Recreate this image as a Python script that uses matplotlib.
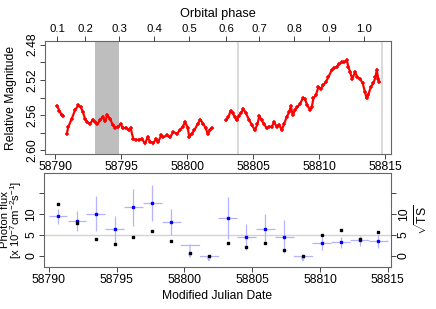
import numpy as np
import matplotlib
matplotlib.use("Agg")
import matplotlib.pyplot as plt

plt.rcParams['font.family'] = ['Liberation Sans', 'DejaVu Sans']
plt.rcParams['mathtext.fontset'] = 'custom'
plt.rcParams['mathtext.rm'] = 'Liberation Sans'
plt.rcParams['mathtext.it'] = 'Liberation Sans:italic'
plt.rcParams['font.size'] = 8.7

# optical light curve (MJD, relative magnitude), three continuous pieces
mjd_a = [58790.17, 58790.33, 58790.51, 58790.61]
mag_a = [2.550, 2.555, 2.560, 2.561]
mjd_b = [58790.89, 58791.01, 58791.27, 58791.52, 58791.77, 58791.95, 58792.10, 58792.27,
         58792.45, 58792.65, 58792.86, 58793.03, 58793.20, 58793.41, 58793.61, 58793.79,
         58793.96, 58794.17, 58794.37, 58794.57, 58794.80, 58794.98, 58795.13, 58795.38,
         58795.58, 58795.73, 58795.93, 58796.14, 58796.39, 58796.57, 58796.82, 58797.02,
         58797.20, 58797.45, 58797.63, 58797.83, 58798.03, 58798.20, 58798.46, 58798.71,
         58798.96, 58799.22, 58799.47, 58799.67, 58799.85, 58800.05, 58800.17, 58800.36,
         58800.55, 58800.81, 58801.01, 58801.23, 58801.42, 58801.57, 58801.74, 58801.92]
mag_b = [2.581, 2.573, 2.564, 2.554, 2.549, 2.551, 2.556, 2.564,
         2.568, 2.570, 2.565, 2.568, 2.570, 2.566, 2.562, 2.567,
         2.560, 2.564, 2.571, 2.574, 2.573, 2.570, 2.575, 2.574,
         2.577, 2.575, 2.587, 2.588, 2.588, 2.587, 2.592, 2.585,
         2.590, 2.592, 2.587, 2.590, 2.583, 2.585, 2.583, 2.585,
         2.579, 2.581, 2.577, 2.573, 2.568, 2.574, 2.585, 2.581,
         2.577, 2.570, 2.565, 2.570, 2.575, 2.581, 2.577, 2.575]
mjd_c = [58802.95, 58803.13, 58803.31, 58803.46, 58803.64, 58803.77, 58803.92, 58804.07,
         58804.27, 58804.47, 58804.72, 58804.90, 58805.15, 58805.33, 58805.48, 58805.66,
         58805.83, 58806.04, 58806.23, 58806.42, 58806.59, 58806.80, 58806.99, 58807.17,
         58807.35, 58807.55, 58807.75, 58807.86, 58808.01, 58808.18, 58808.36, 58808.56,
         58808.77, 58808.94, 58809.11, 58809.32, 58809.45, 58809.57, 58809.77, 58809.95,
         58810.13, 58810.33, 58810.53, 58810.70, 58810.96, 58811.16, 58811.34, 58811.54,
         58811.72, 58811.92, 58812.10, 58812.22, 58812.35, 58812.52, 58812.73, 58812.90,
         58813.11, 58813.31, 58813.48, 58813.61, 58813.73, 58813.92, 58814.11, 58814.27,
         58814.37, 58814.49, 58814.57]
mag_c = [2.566, 2.562, 2.555, 2.558, 2.562, 2.566, 2.561, 2.558,
         2.553, 2.558, 2.566, 2.571, 2.577, 2.570, 2.561, 2.566,
         2.570, 2.575, 2.573, 2.573, 2.568, 2.573, 2.571, 2.577,
         2.570, 2.562, 2.556, 2.550, 2.560, 2.554, 2.551, 2.547,
         2.541, 2.542, 2.549, 2.554, 2.551, 2.541, 2.537, 2.528,
         2.530, 2.526, 2.522, 2.517, 2.509, 2.507, 2.505, 2.502,
         2.500, 2.500, 2.498, 2.505, 2.511, 2.519, 2.511, 2.517,
         2.519, 2.524, 2.534, 2.541, 2.537, 2.528, 2.524, 2.517,
         2.509, 2.519, 2.522]

# orbital phase ticks and where they fall in MJD
phase_labels = ['0.1', '0.2', '0.3', '0.4', '0.5', '0.6', '0.7', '0.8', '0.9', '1.0']
phase_mjd = [58790.17, 58792.27, 58794.87, 58797.52, 58800.17,
             58802.95, 58805.48, 58808.11, 58810.78, 58813.41]
band_mjd = [58793.05, 58794.87]
vline_mjd = [58803.84, 58814.77]

# gamma-ray bins
bin_mjd = [58790.69, 58792.08, 58793.47, 58794.86, 58796.25, 58797.64, 58799.03, 58800.42, 58801.81,
           58803.19, 58804.58, 58805.97, 58807.36, 58808.75, 58810.14, 58811.53, 58812.92, 58814.31]
bin_half = 0.69
flux = [9.4, 8.2, 10.0, 6.4, 11.6, 12.6, 8.1, np.nan, np.nan,
        9.0, 4.5, 6.4, 4.6, np.nan, 3.0, 3.35, 3.7, 3.5]
flux_hi = [11.2, 10.6, 14.2, 9.6, 16.0, 16.9, 11.3, np.nan, np.nan,
           14.0, 7.5, 9.9, 8.5, np.nan, 4.5, 4.6, 4.8, 5.0]
flux_lo = [7.6, 6.0, 5.8, 2.8, 7.0, 8.3, 5.0, np.nan, np.nan,
           4.0, 1.4, 2.9, 0.7, np.nan, 1.4, 1.8, 2.4, 1.8]
ul_idx = [7, 8, 13]
ul_val = [2.6, 0.0, 0.0]
ul_tip = [-0.6, -1.5, -1.5]
sqrt_ts = [12.4, 7.9, 4.1, 2.9, 4.5, 5.9, 3.6, 0.6, 0.0,
           3.0, 2.0, 3.1, 1.4, 0.0, 5.0, 6.2, 4.0, 5.6]

W, H = 436, 309
fig = plt.figure(figsize=(W / 100, H / 100), dpi=100)
ax1 = fig.add_axes([45 / W, 1 - 154 / H, 346 / W, 113 / H])
ax2 = fig.add_axes([44 / W, 1 - 267 / H, 347 / W, 94 / H])

edge = '#666666'
for ax in (ax1, ax2):
    for s in ax.spines.values():
        s.set_color(edge)
        s.set_linewidth(0.8)
    ax.tick_params(direction='out', length=3.5, width=0.7, color='#444444', pad=1.5,
                   which='both')

# --- top panel
ax1.axvspan(band_mjd[0], band_mjd[1], color='#bebebe', lw=0, zorder=0)
for v in vline_mjd:
    ax1.axvline(v, color='#d3d3d3', lw=1.2, zorder=0)
for xs, ys in [(mjd_a, mag_a), (mjd_b, mag_b), (mjd_c, mag_c)]:
    ax1.plot(xs, ys, color='red', lw=1.6, marker='+', ms=3.5, mew=1.1, zorder=2)
ax1.set_xlim(58789.24, 58815.45)
ax1.set_ylim(2.604, 2.476)
ax1.set_yticks([2.48, 2.52, 2.56, 2.60])
ax1.set_yticks([2.50, 2.54, 2.58], minor=True)
ax1.set_xticks(range(58790, 58816, 5))
plt.setp(ax1.get_yticklabels(), rotation=90, va='center')
ax1.set_ylabel('Relative Magnitude')
ax1.yaxis.set_label_coords(-0.081, 0.5)

top = ax1.twiny()
top.set_xlim(ax1.get_xlim())
top.set_xticks(phase_mjd)
top.set_xticklabels(phase_labels, fontsize=8.2)
top.tick_params(direction='out', length=3.5, width=0.7, color='#444444', pad=1.5)
for s in top.spines.values():
    s.set_visible(False)
top.set_xlabel('Orbital phase', labelpad=5, fontsize=9.2)

# --- bottom panel
ax2.axhline(5, color='#d3d3d3', lw=1.0, zorder=0)
flux_arr = np.array(flux)
ax2.errorbar(bin_mjd, flux_arr,
             yerr=[flux_arr - np.array(flux_lo), np.array(flux_hi) - flux_arr],
             xerr=bin_half, fmt='s', ms=1.8, color='blue', ecolor='#b3b3ff',
             elinewidth=0.9, capsize=0, zorder=3)
for i, v, t in zip(ul_idx, ul_val, ul_tip):
    ax2.plot([bin_mjd[i] - bin_half, bin_mjd[i] + bin_half], [v, v], color='#b3b3ff', lw=0.9)
    ax2.annotate('', xy=(bin_mjd[i], t), xytext=(bin_mjd[i], v),
                 arrowprops=dict(arrowstyle='->', color='#b3b3ff', lw=0.9,
                                 shrinkA=0, shrinkB=0, mutation_scale=5))
ax2.plot(bin_mjd, sqrt_ts, 's', color='black', ms=1.8, zorder=4)
ax2.set_xlim(58789.65, 58815.24)
ax2.set_ylim(-2.7, 19.8)
ax2.set_xticks(range(58790, 58816, 5))
ax2.set_yticks([0, 5, 10, 15])
ax2.set_yticklabels(['0', '5', '10', ''])
plt.setp(ax2.get_yticklabels(), rotation=90, va='center')
ax2.set_xlabel('Modified Julian Date', labelpad=3)
ax2.set_ylabel('Photon flux\n[x 10$^{-7}$cm$^{-2}$s$^{-1}$]', linespacing=0.8, fontsize=8.2)
ax2.yaxis.set_label_coords(-0.058, 0.5)

right = ax2.twinx()
right.set_ylim(ax2.get_ylim())
right.set_yticks([0, 5, 10, 15])
right.set_yticklabels(['0', '5', '10', ''])
right.tick_params(direction='out', length=3.5, width=0.7, color='#444444', pad=1.5)
plt.setp(right.get_yticklabels(), rotation=90, va='center')
for s in right.spines.values():
    s.set_visible(False)
right.set_ylabel(r'$\sqrt{\rm TS}$', labelpad=2, rotation=90)

fig.savefig('out.png', dpi=100)
